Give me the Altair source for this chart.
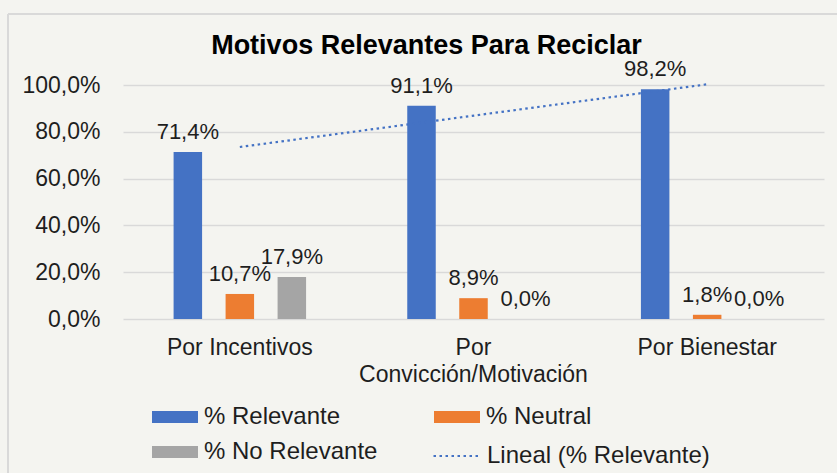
import altair as alt
import pandas as pd

categories = ["Por Incentivos", "Por Convicción/Motivación", "Por Bienestar"]
series = ["% Relevante", "% Neutral", "% No Relevante"]
relevante = [71.4, 91.1, 98.2]
neutral = [10.7, 8.9, 1.8]
no_relevante = [17.9, 0.0, 0.0]
colors = ["#4472C4", "#ED7D31", "#A5A5A5"]
legend_order = ["% Relevante", "% No Relevante", "% Neutral"]
legend_colors = ["#4472C4", "#A5A5A5", "#ED7D31"]
trend_label = "Lineal (% Relevante)"
y_ticks = [0, 20, 40, 60, 80, 100]
title_text = "Motivos Relevantes Para Reciclar"

rows = []
for i, c in enumerate(categories):
    for s, vals in zip(series, [relevante, neutral, no_relevante]):
        rows.append({"cat": c, "serie": s, "val": vals[i], "idx": i + 1})
df = pd.DataFrame(rows)

FONT = "Liberation Sans"
TXT = "#1e1e1e"
W, H = 701, 234

x_enc = alt.X(
    "cat:N", sort=categories,
    scale=alt.Scale(paddingInner=0, paddingOuter=0),
    axis=alt.Axis(
        title=None, domain=False, ticks=False, labelAngle=0, labelFontSize=23,
        labelFont=FONT, labelColor=TXT, labelPadding=17, labelLineHeight=27, labelLimit=400,
        labelExpr="datum.label == 'Por Convicción/Motivación' ? ['Por', 'Convicción/Motivación'] : datum.label",
    ),
)
xoff = alt.XOffset("serie:N", sort=series, scale=alt.Scale(paddingInner=0.452, paddingOuter=0.973))
y_enc = alt.Y(
    "val:Q", scale=alt.Scale(domain=[0, 100]),
    axis=alt.Axis(
        title=None, domain=False, ticks=False, values=y_ticks, labelFontSize=23,
        labelFont=FONT, labelColor=TXT, labelPadding=23, gridColor="#D9D9D9", gridWidth=1.3,
        labelExpr="replace(format(datum.value, '.1f'), '.', ',') + '%'",
    ),
)

base = alt.Chart(df)

bars = base.mark_bar().encode(
    x=x_enc, xOffset=xoff, y=y_enc,
    color=alt.Color(
        "serie:N", scale=alt.Scale(domain=legend_order, range=legend_colors),
        legend=alt.Legend(
            title=None, orient="none", legendX=29, legendY=309, columns=2, columnPadding=56,
            symbolType="M-1,-0.26H1V0.26H-1Z", symbolSize=2116, symbolStrokeWidth=0,
            labelFontSize=24, labelFont=FONT, labelColor=TXT, labelOffset=6, rowPadding=-9,
            labelLimit=400,
        ),
    ),
)

labels = base.transform_calculate(
    lbl="replace(format(datum.val, '.1f'), '.', ',') + '%'"
).mark_text(dy=-13, baseline="alphabetic", fontSize=22, font=FONT, color=TXT).encode(
    x=alt.X("cat:N", sort=categories), xOffset=alt.XOffset("serie:N", sort=series),
    y="val:Q", text="lbl:N",
)

trend = base.transform_filter(
    alt.datum.serie == "% Relevante"
).transform_regression(
    "idx", "val", method="linear", extent=[1, 3]
).transform_filter(
    "datum.idx == round(datum.idx)"
).transform_calculate(
    cat="['Por Incentivos', 'Por Convicción/Motivación', 'Por Bienestar'][round(datum.idx) - 1]",
    trend="'" + trend_label + "'",
).mark_line(color="#4472C4", strokeWidth=2.2, strokeCap="butt").encode(
    x=alt.X("cat:N", sort=categories), y="val:Q",
    strokeDash=alt.StrokeDash(
        "trend:N", scale=alt.Scale(domain=[trend_label], range=[[2.5, 3.5]]),
        legend=alt.Legend(
            title=None, orient="none", legendX=309, legendY=347, symbolType="stroke",
            symbolSize=2025, symbolStrokeColor="#4472C4", symbolStrokeWidth=2.2,
            labelFontSize=24, labelFont=FONT, labelColor=TXT, labelOffset=7, labelLimit=400,
        ),
    ),
)

frame_left = alt.Chart(df).mark_rule(color="#D9D9D9", strokeWidth=1.5).encode(
    x=alt.value(-115), y=alt.value(-71), y2=alt.value(H + 170)
)
frame_top = alt.Chart(df).mark_rule(color="#D9D9D9", strokeWidth=1.5).encode(
    x=alt.value(-115), x2=alt.value(W + 30), y=alt.value(-71)
)

chart = alt.layer(frame_left, frame_top, bars, labels, trend).properties(
    width=W, height=H,
    padding={"left": 123, "top": 85, "right": 13, "bottom": 154},
    autosize=alt.AutoSizeParams(type="none"),
    title=alt.TitleParams(
        title_text, fontSize=27, fontWeight="bold", font=FONT, color="#000000",
        anchor="middle", dx=-47, offset=-47,
    ),
    background="#F4F4F0",
).resolve_scale(x="shared").configure_view(stroke=None)

chart.save("out.html", embed_options={"renderer": "svg", "actions": False})
